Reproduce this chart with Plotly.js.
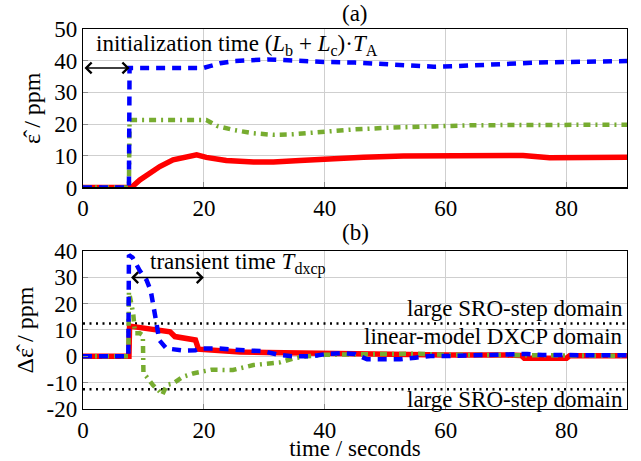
<!DOCTYPE html>
<html>
<head>
<meta charset="utf-8">
<script src="https://cdn.plot.ly/plotly-3.0.1.min.js"></script>
<style>
html, body { margin: 0; padding: 0; background: #ffffff; }
#chart { width: 641px; height: 461px; }
</style>
</head>
<body>
<div id="chart"></div>
<script>
// ---------- data ----------
// panel (a): estimated SRO  (ppm) vs time (s)
const tRedA   = [0, 8.0, 9.4, 11.1, 12.7, 14.9, 17.1, 18.8, 20.4, 23.7, 28.2, 31.5, 35.9, 39.2, 46.4, 53, 60.1, 66.7, 72.8, 77.2, 83.2, 90];
const redA    = [0, 0, 2.4, 4.5, 6.6, 8.7, 9.5, 10.3, 9.5, 8.5, 8.0, 8.0, 8.5, 8.9, 9.5, 9.9, 10.0, 10.2, 10.1, 9.4, 9.4, 9.5];

const tGreenA = [0, 7.6, 7.7, 12, 16, 20.4, 22.2, 25, 28.2, 31.5, 34.8, 40.3, 44.7, 51, 57.6, 64, 70.6, 77.2, 83.2, 90];
const greenA  = [0, 0, 21.3, 21.3, 21.3, 21.3, 19.4, 18.1, 17.1, 16.6, 16.8, 17.8, 18.3, 18.9, 19.4, 19.6, 19.7, 19.8, 19.8, 19.8];

const tBlueA  = [0, 7.6, 7.7, 12, 16, 19.9, 21, 22.7, 25, 28, 30.5, 33, 36, 40, 45, 50, 54, 58, 62, 66, 70, 75, 80, 85, 90];
const blueA   = [0, 0, 37.7, 37.7, 37.7, 37.7, 38.3, 39.2, 39.9, 40.3, 40.4, 40.2, 39.8, 39.6, 39.4, 38.8, 38.3, 38.1, 38.3, 38.7, 39.0, 39.4, 39.6, 39.8, 39.9];

// panel (b): SRO estimation error (ppm) vs time (s)
const tRedB   = [0, 7.6, 7.7, 9.4, 11.6, 14.4, 15.2, 18.0, 18.6, 19.1, 22.2, 26, 30.4, 36, 40, 50, 60, 70, 72.5, 73, 80, 80.5, 90];
const redB    = [0, 0, 11.5, 10.9, 10.6, 9.3, 7.5, 6.8, 6.2, 2.7, 2.2, 1.6, 1.5, 1.3, 0.9, 0.9, 0.5, 0.5, 0.3, -0.7, -0.7, 0.2, 0.2];

const tGreenB = [0, 7.5, 7.6, 8.3, 8.6, 9.4, 9.9, 10.0, 10.5, 11.6, 12.7, 13.1, 13.9, 14.9, 16.5, 18.2, 21.2, 24.8, 28.2, 31.5, 32.6, 34.8, 37, 40, 45, 50, 55, 60, 70, 80, 90];
const greenB  = [0, 0, 24.5, 16.4, 8.8, 8.8, 8.0, -6.4, -7.7, -11.0, -13.4, -14.7, -10.8, -10.3, -7.8, -6.5, -5.1, -5.2, -3.3, -2.6, -2.3, -0.8, 0, 0.6, 0.8, 0.7, 1.0, 0.6, 0.5, 0.3, 0.2];

const tBlueB  = [0, 7.5, 7.6, 8.2, 9.4, 10.5, 11.2, 11.9, 12.2, 12.6, 13.8, 16.7, 18.6, 19.3, 22.2, 26, 30, 32.3, 34.8, 37.6, 40.3, 42.5, 45, 47, 52.5, 55, 57.5, 60, 62.8, 65.5, 68, 70.7, 73.5, 76, 80, 90];
const blueB   = [0, 0, 38.5, 37.5, 32.5, 29, 25, 16.8, 12, 6.2, 3.0, 2.2, 2.3, 3.0, 3.0, 2.4, 1.9, 0.6, 0, 0, 0.9, 1.2, 0.9, -1.1, -1.1, -0.5, 0.1, 0.1, 0.2, 0.5, 0.5, 0.9, 0.9, 0.5, 0.4, 0.4];

// domain boundaries (ppm) and their x-extent
const domainBound = [12.5, -12.5];
const boundSpan   = [0, 90];

// annotation anchor values
const initArrow      = {from: 0, to: 7.7, level: 37.7};
const transientArrow = {from: 7.7, to: 20, level: 29.9};

// ticks
const xTicks     = [0, 20, 40, 60, 80];
const xTickText  = ['0', '20', '40', '60', '80'];
const yTicksA    = [0, 10, 20, 30, 40, 50];
const yTickTextA = ['0', '10', '20', '30', '40', '50'];
const yTicksB    = [-20, -10, 0, 10, 20, 30, 40];
const yTickTextB = ['-20', '-10', '0', '10', '20', '30', '40'];

// ---------- styles ----------
const FONT = 'Liberation Serif';
const RED = '#ff0000', GREEN = '#77ac30', BLUE = '#0000ff';
const redLine   = {color: RED, width: 5.5};
const greenLine = {color: GREEN, width: 4.5, dash: '7px,5px,2px,5px'};
const blueLine  = {color: BLUE, width: 4.5, dash: '9px,7px'};

const traces = [
  {x: tRedA, y: redA, xaxis: 'x', yaxis: 'y', mode: 'lines', line: redLine},
  {x: tGreenA, y: greenA, xaxis: 'x', yaxis: 'y', mode: 'lines', line: greenLine},
  {x: tBlueA, y: blueA, xaxis: 'x', yaxis: 'y', mode: 'lines', line: blueLine},
];
domainBound.forEach(v => traces.push({
  x: boundSpan, y: [v, v], xaxis: 'x2', yaxis: 'y2', mode: 'lines',
  line: {color: '#000000', width: 2.5, dash: '2px,4.5px'}
}));
traces.push(
  {x: tRedB, y: redB, xaxis: 'x2', yaxis: 'y2', mode: 'lines', line: redLine},
  {x: tGreenB, y: greenB, xaxis: 'x2', yaxis: 'y2', mode: 'lines', line: greenLine},
  {x: tBlueB, y: blueB, xaxis: 'x2', yaxis: 'y2', mode: 'lines', line: blueLine}
);

const tf = {family: FONT, size: 23, color: '#000'};
const titleFont = {family: FONT, size: 24, color: '#000'};
function xAxis(anchor, extra) {
  return Object.assign({
    anchor: anchor, range: [0, 90], tickmode: 'array', tickvals: xTicks, ticktext: xTickText,
    showline: true, linecolor: '#000', linewidth: 1.2, mirror: true,
    showgrid: true, gridcolor: '#cfcfcf', gridwidth: 1, zeroline: false,
    ticks: 'inside', ticklen: 5, tickcolor: '#8a8a8a',
    tickfont: tf, automargin: false
  }, extra || {});
}
function yAxis(anchor, domain, range, vals, text, title) {
  return {
    anchor: anchor, domain: domain, range: range, tickmode: 'array', tickvals: vals, ticktext: text,
    showline: true, linecolor: '#000', linewidth: 1.2, mirror: true,
    showgrid: true, gridcolor: '#cfcfcf', gridwidth: 1, zeroline: false,
    ticks: 'inside', ticklen: 5, tickcolor: '#8a8a8a',
    tickfont: tf, automargin: false,
    title: {text: title, font: titleFont, standoff: 6}
  };
}

const annotations = [
  {xref: 'paper', yref: 'paper', x: 0.5, y: 1.041, text: '(a)', showarrow: false, font: tf, xanchor: 'center', yanchor: 'middle'},
  {xref: 'paper', yref: 'paper', x: 0.5, y: 0.465, text: '(b)', showarrow: false, font: tf, xanchor: 'center', yanchor: 'middle'},
  {xref: 'x', yref: 'y', x: 1.9, y: 45, xanchor: 'left', yanchor: 'middle', showarrow: false, font: tf,
   text: 'initialization time (<i>L</i><sub>b</sub> + <i>L</i><sub>c</sub>)·<i>T</i><sub>A</sub>'},
  {xref: 'x', yref: 'y', axref: 'x', ayref: 'y', x: initArrow.to, y: initArrow.level, ax: initArrow.from, ay: initArrow.level,
   text: '', showarrow: true, arrowside: 'end+start', arrowhead: 4, startarrowhead: 4, arrowsize: 1.4, startarrowsize: 1.4, arrowwidth: 1.5, arrowcolor: '#000', standoff: 0, startstandoff: 0},
  {xref: 'x2', yref: 'y2', x: 10.7, y: 35.4, xanchor: 'left', yanchor: 'middle', showarrow: false, font: tf,
   text: 'transient time <i>T</i><sub>dxcp</sub>'},
  {xref: 'x2', yref: 'y2', axref: 'x2', ayref: 'y2', x: transientArrow.to, y: transientArrow.level, ax: transientArrow.from, ay: transientArrow.level,
   text: '', showarrow: true, arrowside: 'end+start', arrowhead: 4, startarrowhead: 4, arrowsize: 1.4, startarrowsize: 1.4, arrowwidth: 1.5, arrowcolor: '#000', standoff: 0, startstandoff: 0},
  {xref: 'x2', yref: 'y2', x: 89.7, y: 18, xanchor: 'right', yanchor: 'middle', showarrow: false, font: tf, text: 'large SRO-step domain'},
  {xref: 'x2', yref: 'y2', x: 89.7, y: 7.4, xanchor: 'right', yanchor: 'middle', showarrow: false, font: tf, text: 'linear-model DXCP domain'},
  {xref: 'x2', yref: 'y2', x: 89.7, y: -16.4, xanchor: 'right', yanchor: 'middle', showarrow: false, font: tf, text: 'large SRO-step domain'}
];

const layout = {
  width: 641, height: 461,
  margin: {l: 83, r: 14, t: 29, b: 52},
  paper_bgcolor: '#ffffff', plot_bgcolor: '#ffffff',
  showlegend: false,
  font: tf,
  xaxis: xAxis('y'),
  xaxis2: xAxis('y2', {title: {text: 'time / seconds', font: tf, standoff: 9}}),
  yaxis: yAxis('x', [0.583, 1], [0, 50], yTicksA, yTickTextA, 'ε̂ / ppm'),
  yaxis2: yAxis('x2', [0, 0.4158], [-20, 40], yTicksB, yTickTextB, 'Δε̂ / ppm'),
  annotations: annotations
};

Plotly.newPlot('chart', traces, layout, {staticPlot: true, displayModeBar: false});
</script>
</body>
</html>
